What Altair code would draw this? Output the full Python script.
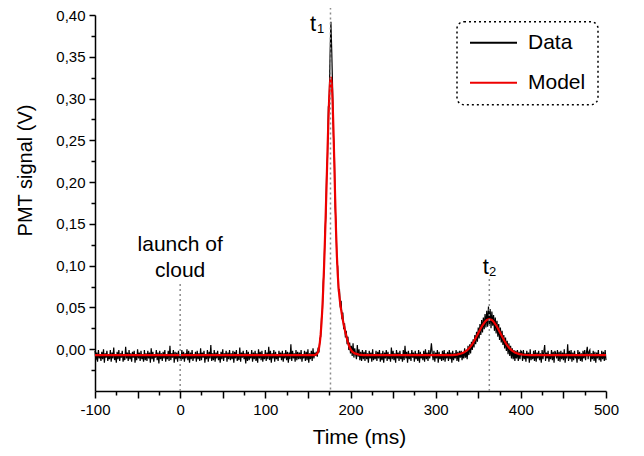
import altair as alt
import pandas as pd

FONT = "Liberation Sans, Arial, Helvetica, sans-serif"

# ---------------- Data trace (PMT signal in mV, 1 ms sampling) ----------------
data_pre_start = -100
data_pre = [
    -2, -13, -4, -15, -1, -11, -6, -14, -3, -12, 0, -16, -5, -10, -2, -14, -7, -12, -1, -15,
    -4, -11, 2, -13, -6, -16, -3, -12, -1, -14, -5, -10, -2, -15, -8, -13, 3, -11, -4, -14,
    -1, -12, -5, -15, -3, -10, -2, -16, -6, -13, 0, -11, -4, -14, -2, -12, -7, -15, -1, -13,
    -5, -14, -2, -11, -4, -16, 1, -12, -3, -15, -6, -10, -1, -13, -4, -17, -2, -12, -5, -14,
    -3, -11, -1, -15, -6, -12, -2, -14, 4, -13, -5, -10, -1, -16, -3, -12, -4, -15, -2, -11,
    -6, -14, -1, -12, -3, -15, -5, -11, 0, -13, -2, -16, -4, -12, -1, -14, -7, -11, -3, -15,
    -2, -12, -5, -14, 1, -13, -4, -10, -2, -16, -6, -12, -1, -15, -3, -11, 5, -14, -5, -13,
    -1, -15, -4, -11, -2, -13, -6, -16, -3, -12, 0, -14, -5, -10, -2, -15, -4, -12, -1, -13,
    -5, -12, -2, -16, -3, -11, -1, -14, -6, -13, 2, -15, -4, -10, -2, -12, -5, -17, -1, -14,
    -3, -13, -6, -11, -1, -15, -4, -12, -2, -14, -5, -16, 0, -11, -3, -13, -2, -15, -6, -12,
    -1, -14, -4, -12, 3, -13, -2, -16, -5, -11, -1, -15, -3, -12, -6, -14, -2, -10, -4, -13,
    -2, -15, -5, -11, -1, -13, -3, -16, -4, -12, 6, -14, -2, -11, -5, -15, -1, -13, -3, -12,
    -4, -12, -1, -15, -6, -11, -2, -14, -3, -13, 0, -16, -5, -12, -2, -14, 1, -11, -4, -8,
]
data_peak1_start = 160
data_peak1 = [
    -3, -9, 2, -4, 12, 15, 38, 46, 80, 95, 140, 158, 212, 230, 290, 296, 352, 392, 356, 312,
    255, 238, 170, 150, 105, 99, 68, 72, 50, 58, 36, 44, 24, 31, 14, 22, 6, 15, -1, 8, -5,
]
data_mid_start = 201
data_mid = [
    4, -8, 7, -10, 1, -6, -12, 5, -9, 0, -13, -3, -14, -1, -12,
    -3, -14, -1, -12, -5, -16, -2, -11, -4, -15, 0, -13, -6, -12, -2, -14, -3, -11, -1, -15,
    -5, -13, -2, -16, -4, -11, -1, -14, -3, -12, -6, -15, 2, -12, -2, -13, -5, -16, -1, -11,
    -4, -14, -2, -12, -6, -15, -1, -13, 4, -11, -3, -16, -2, -12, -5, -14, -1, -10, -4, -15,
    -2, -12, -5, -14, -1, -16, -3, -11, -6, -13, -2, -15, 0, -12, -4, -14, -1, -11, -3, 7,
    -5, -13, -2, -15, -4, -11, -1, -16, -3, -12, -6, -14, -2, -13, -1, -15, -5, -11, -3, -14,
    -1, -12, -4, -16, -2, -13, -5, -11, -1, -14, -3, -15, -2, -10,
]
data_peak2_start = 330
data_peak2 = [
    -2, -13, -4, -11, 1, -10, -3, -12, 4, -7, 6, -5, 9, -1, 12, 2, 17, 6, 21, 9,
    26, 13, 30, 17, 35, 20, 38, 24, 42, 26, 46, 27, 51, 29, 48, 25, 45, 28, 41, 22,
    38, 19, 34, 15, 30, 11, 26, 8, 22, 5, 17, 1, 14, -2, 10, -6, 7, -8, 4, -11,
    1, -12, -1, -14, -2, -11, -1, -14, -3, -12, -2,
]
data_post_start = 401
data_post = [
    -3, -14, -1, -12, -5, -15, -2, -11, -4, -16, 0, -13, -6, -12, -2, -14, -1, -15, -4, -11,
    -2, -13, -5, -16, -1, -12, -3, 5, -14, -4, -11, -2, -15, -6, -12, -1, -13, -3, -16, -2,
    -5, -11, -1, -14, -3, -15, -2, -12, -4, -13, 0, -16, -5, -11, 6, -14, -2, -12, -1, -15,
    -4, -13, -2, -11, -6, -16, -1, -12, -3, -14, -5, -15, -2, -11, -1, -13, -4, 3, -12, -3,
    -1, -15, -5, -12, -2, -14, -3, -16, -4, -11, -1, -13, -6, -15, -2, -12, -3, -14, -1, -13,
]

# ---------------- Model curve (V) ----------------
model_t = [
    -100, 150, 158, 160, 161, 162, 163, 164, 165, 166, 167, 168, 169, 170, 171, 172, 173,
    174, 175, 176, 177, 178, 179, 180, 181, 182, 183, 184, 185, 186, 187, 188, 189, 190,
    191, 192, 193, 194, 195, 196, 197, 198, 199, 200, 202, 205, 210, 215,
    320, 325, 330, 333, 337, 340, 343, 345, 348, 350, 353, 355, 358, 360, 363, 366, 368,
    371, 373, 376, 378, 381, 383, 386, 389, 393, 398, 403, 410, 500,
]
model_v = [
    -0.007, -0.007, -0.007, -0.006, -0.005, -0.003, 0.001, 0.008, 0.018, 0.032, 0.050,
    0.073, 0.100, 0.131, 0.165, 0.200, 0.237, 0.272, 0.301, 0.320, 0.326, 0.318, 0.296,
    0.262, 0.222, 0.180, 0.142, 0.112, 0.090, 0.074, 0.063, 0.054, 0.047, 0.041, 0.035,
    0.030, 0.025, 0.020, 0.016, 0.012, 0.008, 0.005, 0.002, 0.000, -0.003, -0.005,
    -0.0065, -0.007,
    -0.007, -0.0065, -0.0052, -0.004, -0.0012, 0.002, 0.0062, 0.0095, 0.0151, 0.0191,
    0.025, 0.0286, 0.033, 0.0349, 0.036, 0.0349, 0.033, 0.0286, 0.025, 0.0191, 0.0151,
    0.0095, 0.0062, 0.002, -0.0012, -0.004, -0.0058, -0.0066, -0.007, -0.007,
]

# ---------------- Markers and annotations ----------------
marker_t = [0, 176.5, 363]
marker_top = [0.078, 0.415, 0.084]
marker_bottom = [-0.05, -0.05, -0.05]

note_text = ["launch of", "cloud"]
note_t = [0, 0]
note_v = [0.1175, 0.0866]

peak_text = ["t", "t"]
peak_t = [159.5, 362.5]
peak_v = [0.381, 0.0899]
sub_text = ["1", "2"]
sub_t = [160.6, 362.7]
sub_v = [0.3786, 0.0878]

x_ticks = [-100, -75, -50, -25, 0, 25, 50, 75, 100, 125, 150, 175, 200, 225, 250, 275,
           300, 325, 350, 375, 400, 425, 450, 475, 500]
y_ticks = [-0.025, 0.0, 0.025, 0.05, 0.075, 0.1, 0.125, 0.15, 0.175, 0.2, 0.225, 0.25,
           0.275, 0.3, 0.325, 0.35, 0.375, 0.4]

# ---------------- Build tables ----------------
rows = []
for start, seg in [(data_pre_start, data_pre), (data_peak1_start, data_peak1),
                   (data_mid_start, data_mid), (data_peak2_start, data_peak2),
                   (data_post_start, data_post)]:
    for i, mv in enumerate(seg):
        rows.append({"t": start + i, "v": mv / 1000.0, "series": "Data"})
df_data = pd.DataFrame(rows)
df_model = pd.DataFrame({"t": model_t, "v": model_v, "series": "Model"})
df_mark = pd.DataFrame({"t": marker_t, "v": marker_top, "v2": marker_bottom})
df_note = pd.DataFrame({"t": note_t, "v": note_v, "label": note_text})
df_peak = pd.DataFrame({"t": peak_t, "v": peak_v, "label": peak_text})
df_sub = pd.DataFrame({"t": sub_t, "v": sub_v, "label": sub_text})

xscale = alt.Scale(domain=[-100, 500], nice=False, zero=False)
yscale = alt.Scale(domain=[-0.05, 0.40], nice=False, zero=False)

xaxis = alt.Axis(
    title="Time (ms)", values=x_ticks, grid=False,
    labelExpr="datum.value % 100 === 0 ? '' + datum.value : ''",
    tickSize={"condition": {"test": "datum.value % 50 === 0", "value": 7}, "value": 4},
    labelFlush=False, labelOverlap=False, labelPadding=4,
    titleFontSize=21, titleY=52, titleX=264, titleAlign="center", titleBaseline="alphabetic",
)
yaxis = alt.Axis(
    title="PMT signal (V)", values=y_ticks, grid=False,
    labelExpr="datum.value > -0.001 && abs(datum.value / 0.05 - round(datum.value / 0.05)) < 0.001 ? replace(format(datum.value, '.2f'), '.', ',') : ''",
    tickSize={"condition": {"test": "abs(datum.value / 0.05 - round(datum.value / 0.05)) < 0.001", "value": 6}, "value": 4},
    labelFlush=False, labelOverlap=False, labelPadding=4,
    titleFontSize=20, titleX=-64, titleY=155, titleAngle=-90, titleAlign="center",
    titleBaseline="alphabetic",
)

X = alt.X("t:Q", scale=xscale, axis=xaxis)
Y = alt.Y("v:Q", scale=yscale, axis=yaxis)

color = alt.Color(
    "series:N",
    scale=alt.Scale(domain=["Data", "Model"], range=["#000000", "#ee0000"]),
    legend=alt.Legend(
        title=None, orient="none", legendX=362, legendY=6.7,
        symbolType="stroke", symbolSize=2209, symbolStrokeWidth=2,
        labelFontSize=21, labelFont=FONT, labelOffset=10, clipHeight=18, rowPadding=19,
        labelExpr="datum.label + '\u2002'",
        padding=12, strokeColor="#000000", cornerRadius=7,
    ),
)

data_line = alt.Chart(df_data).mark_line(strokeWidth=1.2).encode(x=X, y=Y, color=color)
model_line = alt.Chart(df_model).mark_line(strokeWidth=2.2).encode(x=X, y=Y, color=color)
markers = alt.Chart(df_mark).mark_rule(color="#8c8c8c", strokeWidth=1.5, strokeDash=[2, 3]).encode(
    x=X, y=Y, y2=alt.Y2("v2:Q"))
notes = alt.Chart(df_note).mark_text(font=FONT, fontSize=21, align="center", baseline="alphabetic",
                                     color="#000000").encode(x=X, y=Y, text="label:N")
peaks = alt.Chart(df_peak).mark_text(font=FONT, fontSize=22, align="right", baseline="alphabetic",
                                     color="#000000").encode(x=X, y=Y, text="label:N")
subs = alt.Chart(df_sub).mark_text(font=FONT, fontSize=13, align="left", baseline="alphabetic",
                                   color="#000000").encode(x=X, y=Y, text="label:N")

chart = alt.layer(data_line, model_line, markers, notes, peaks, subs).properties(
    width=511, height=376,
    autosize=alt.AutoSizeParams(type="none"),
    padding={"left": 87, "top": 7, "right": 20, "bottom": 57},
).configure_view(strokeOpacity=0).configure_axis(
    labelFont=FONT, labelFontSize=15, labelColor="#000000",
    titleFont=FONT, titleFontWeight="normal", titleColor="#000000",
    domainColor="#000000", domainWidth=1.5, tickColor="#000000", tickWidth=1.5,
).configure_legend(strokeDash=[2, 3], strokeWidth=1.5)

chart.save("out.html", embed_options={"renderer": "svg", "actions": False})
